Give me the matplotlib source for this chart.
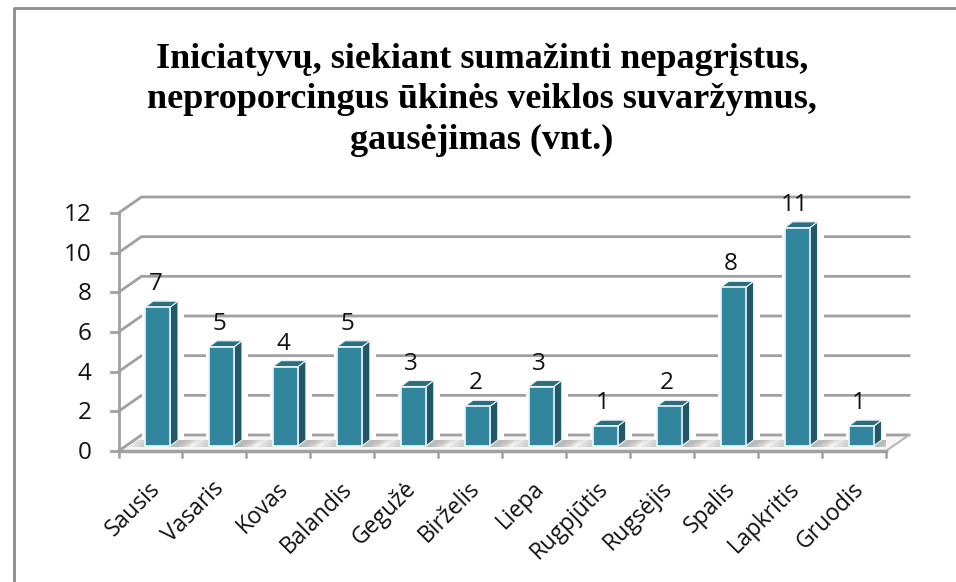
# -*- coding: utf-8 -*-
"""
Pseudo-3D column chart of monthly initiatives
"""

import matplotlib
matplotlib.use('Agg')
import matplotlib.pyplot as plt
from matplotlib.patches import Polygon, Rectangle

months = ['Sausis', 'Vasaris', 'Kovas', 'Balandis', 'Gegužė', 'Birželis',
          'Liepa', 'Rugpjūtis', 'Rugsėjis', 'Spalis', 'Lapkritis', 'Gruodis']
values = [7, 5, 4, 5, 3, 2, 3, 1, 2, 8, 11, 1]
y_ticks = [0, 2, 4, 6, 8, 10, 12]

title = ('Iniciatyvų, siekiant sumažinti nepagrįstus,\n'
         'neproporcingus ūkinės veiklos suvaržymus,\n'
         'gausėjimas (vnt.)')

W, H = 956, 582
fig = plt.figure(figsize=(W/100, H/100), dpi=100)

# frame of the pasted picture, only left and top are visible
frame = fig.add_axes([0, 0, 1, 1], zorder=0)
frame.set_xlim(0, W)
frame.set_ylim(H, 0)
frame.axis('off')
frame.plot([14.5, 14.5, W], [H, 7.5, 7.5], color='#8c8c8c', linewidth=2)

# axes box is the front plane of the chart
left, right, top, bottom = 118.5, 886.0, 213.0, 451.0
ax = fig.add_axes([left/W, 1-bottom/H, (right-left)/W, (bottom-top)/H], zorder=1)
ax.set_xlim(0, 12)
ax.set_ylim(0, 12)
ax.axis('off')

px = 12/(right-left)
py = 12/(bottom-top)
depth_x, depth_y = 23*px, 16*py
grid_col = '#a0a0a0'

# floor
ax.add_patch(Polygon([(0, 0), (12, 0), (12+depth_x, depth_y), (depth_x, depth_y)],
                     closed=True, facecolor='#f6f6f6', edgecolor='none', clip_on=False))

# gridlines on back wall and left wall
for t in y_ticks:
    ax.plot([0, depth_x, 12+depth_x], [t, t+depth_y, t+depth_y],
            color=grid_col, linewidth=2, clip_on=False, zorder=1)
    ax.plot([-8*px, 0], [t, t], color=grid_col, linewidth=2, clip_on=False, zorder=1)
ax.plot([0, 0], [0, 12], color=grid_col, linewidth=2, clip_on=False, zorder=1)
ax.plot([12, 12+depth_x], [0, depth_y], color='#b8b8b8', linewidth=1.5, clip_on=False, zorder=1)
ax.plot([0, 12], [0, 0], color=grid_col, linewidth=2.5, clip_on=False, zorder=2)
for i in range(13):
    ax.plot([i, i], [0, -6*py], color=grid_col, linewidth=1.8, clip_on=False, zorder=1)

# bars
bar_off, bar_w = 0.415, 0.39
base = 5*py
side_x, side_y = 8*px, 6*py
for i, v in enumerate(values):
    x0 = i + bar_off
    x1 = x0 + bar_w
    y1 = base + v

    # white halo hides gridlines near the column
    ax.add_patch(Rectangle((x0-3*px, base+side_y), bar_w+side_x+9*px, v,
                           facecolor='white', edgecolor='none', zorder=2.5))
    # floor shadow either side of the column, built from a few soft layers
    for grow in [0, 4, 8, 12]:
        ax.add_patch(Polygon([(x0-(16-grow)*px, base-1*py), (x0, base-1*py), (x0, base+side_y),
                              (x0-(10-grow)*px, base+side_y)],
                             closed=True, facecolor='#b4b4b4', alpha=0.22, edgecolor='none', zorder=2.6))
        ax.add_patch(Polygon([(x1, base-1*py), (x1+side_x, base+side_y), (x1+(30-grow)*px, base+side_y),
                              (x1+(18-grow)*px, base-1*py)],
                             closed=True, facecolor='#a0a0a0', alpha=0.25, edgecolor='none', zorder=2.6))

    ax.add_patch(Polygon([(x1, base), (x1+side_x, base+side_y), (x1+side_x, y1+side_y), (x1, y1)],
                         closed=True, facecolor='#215968', edgecolor='#eaf2f4', linewidth=0.8, zorder=3))
    ax.add_patch(Polygon([(x0, y1), (x1, y1), (x1+side_x, y1+side_y), (x0+side_x, y1+side_y)],
                         closed=True, facecolor='#2a6e80', edgecolor='#eaf2f4', linewidth=0.8, zorder=3))
    ax.bar(x0, v, width=bar_w, bottom=base, align='edge', color='#31859c',
           edgecolor='#eef5f7', linewidth=1.2, zorder=4)
    ax.text(i+0.5+5*px, y1+side_y+17*py, str(v), ha='center', va='center', fontsize=17.5,
            family='Open Sans', color='#111111', zorder=5, clip_on=False)

# tick labels
for t in y_ticks:
    ax.text(-27*px, t-2*py, str(t), ha='right', va='center', fontsize=17.5,
            family='Open Sans', color='#111111', clip_on=False)
for i, m in enumerate(months):
    ax.text(i+0.62-10*px, -26*py, m, ha='right', va='top', rotation=45, rotation_mode='anchor',
            fontsize=16.5, family='Open Sans', color='#111111', clip_on=False)

frame.text(482, 100, title, ha='center', va='center', fontsize=26, fontweight='bold',
           family='Liberation Serif', color='black', linespacing=1.29)

plt.savefig('out.png', dpi=100)
